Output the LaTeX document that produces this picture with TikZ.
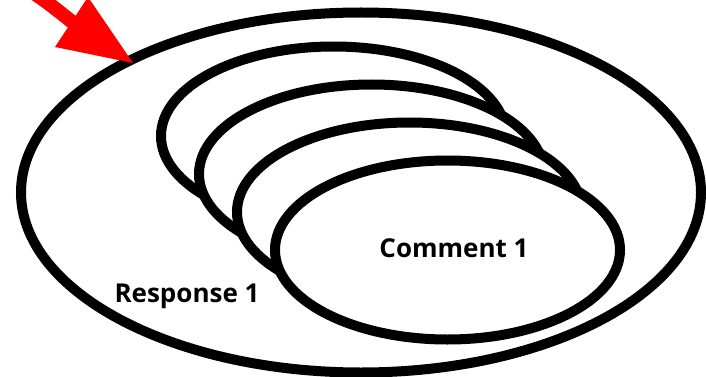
\documentclass[tikz,border=0pt]{standalone}
\usepackage{fontspec}
\setmainfont{Open Sans}
\begin{document}
\begin{tikzpicture}[x=1pt,y=-1pt,
  ring/.style={draw=black,line width=10pt,fill=white},
  lbl/.style={font=\fontsize{26}{31}\selectfont\bfseries,inner sep=0pt,anchor=base}]
\useasboundingbox (0,0) rectangle (706,377);
% outer ellipse
\draw[ring] (361,192.5) ellipse [x radius=340pt, y radius=180pt];
% stacked comment ellipses, back to front
\draw[ring] (333.5,136) ellipse [x radius=172.5pt, y radius=89.5pt];
\draw[ring] (371.5,174) ellipse [x radius=172.5pt, y radius=89.5pt];
\draw[ring] (409.5,212) ellipse [x radius=172.5pt, y radius=89.5pt];
\draw[ring] (447.5,250) ellipse [x radius=172.5pt, y radius=89.5pt];
% labels
\node[lbl] (comm) at (454,257) {Comment 1};
\node[lbl] (resp) at (187,302) {Response 1};
% red arrow
\coordinate (tail) at (10,-22);
\coordinate (neck) at (76,25);
\coordinate (tip) at (133,63);
\draw[red,line width=14pt] (tail) .. controls (42,-2) .. (neck);
\fill[red] (tip) -- (55,47) -- (88,-3) -- cycle;
\end{tikzpicture}
\end{document}
